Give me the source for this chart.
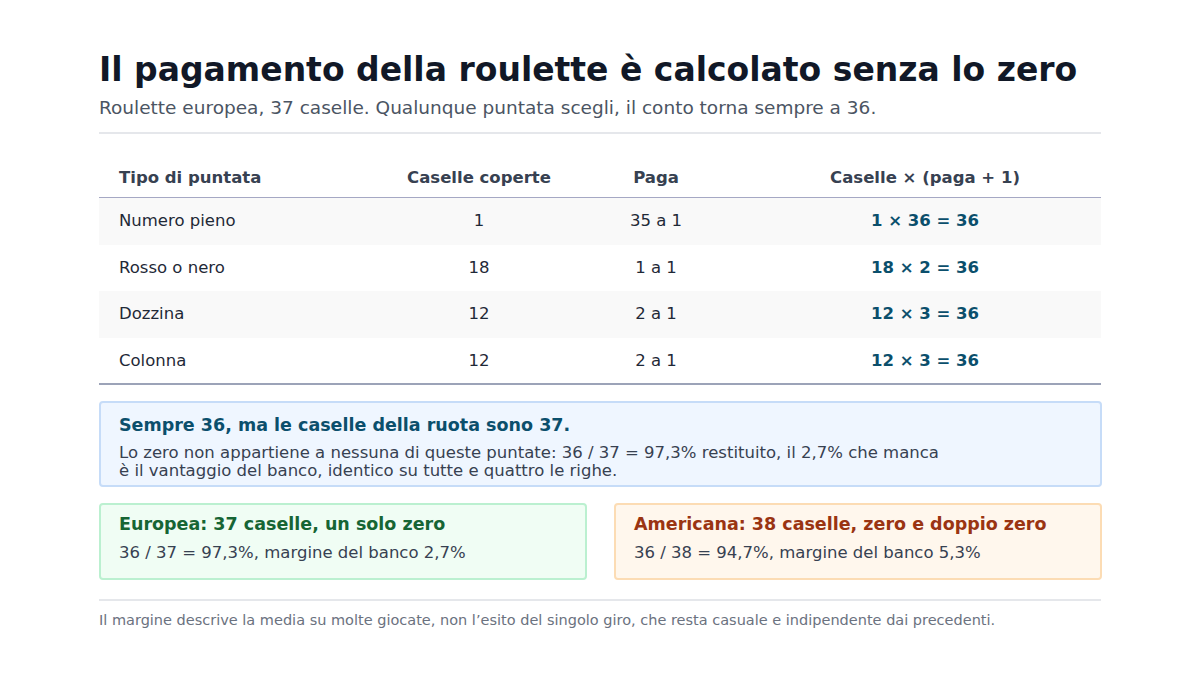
<!DOCTYPE html>
<html><head><meta charset="utf-8">
<script src="https://cdn.jsdelivr.net/npm/chart.js@4"></script>
<style>
body{margin:0;width:1200px;height:675px;background:#fff;font-family:"DejaVu Sans",sans-serif;position:relative;overflow:hidden}
.a{position:absolute;white-space:nowrap}
.c{transform:translateX(-50%)}
.box{position:absolute;box-sizing:border-box;border-radius:4px;border:2px solid}
</style></head><body>
<div id="root"></div>
<script>
const headers=["Tipo di puntata","Caselle coperte","Paga","Caselle × (paga + 1)"];
const bets=["Numero pieno","Rosso o nero","Dozzina","Colonna"];
const covered=[1,18,12,12];
const payout=[35,1,2,2];
const R=document.getElementById('root');
function el(cls,style,html){const d=document.createElement('div');d.className=cls;Object.assign(d.style,style);d.innerHTML=html||'';R.appendChild(d);return d;}
el('a',{left:'99px',top:'50px',fontSize:'33px',fontWeight:'bold',color:'#111827'},'Il pagamento della roulette è calcolato senza lo zero');
el('a',{left:'99px',top:'97px',fontSize:'18.5px',color:'#4b5563'},'Roulette europea, 37 caselle. Qualunque puntata scegli, il conto torna sempre a 36.');
el('a',{left:'99px',top:'132px',width:'1002px',height:'2px',background:'#e5e7eb'});
const cx=[null,479,656,925];
headers.forEach((h,i)=>{
  el('a'+(i?' c':''),{left:(i?cx[i]:119)+'px',top:'168px',fontSize:'16.5px',fontWeight:'bold',color:'#374151'},h);
});
el('a',{left:'99px',top:'197px',width:'1002px',height:'1px',background:'#a5a8c4'});
bets.forEach((b,r)=>{
  const top=198+r*46.5;
  if(r%2===0) el('a',{left:'99px',top:top+'px',width:'1002px',height:'46.5px',background:'#f9f9f9'});
  const ty=top+13;
  el('a',{left:'119px',top:ty+'px',fontSize:'16.5px',color:'#1f2937'},b);
  el('a c',{left:cx[1]+'px',top:ty+'px',fontSize:'16.5px',color:'#1f2937'},covered[r]);
  el('a c',{left:cx[2]+'px',top:ty+'px',fontSize:'16.5px',color:'#1f2937'},payout[r]+' a 1');
  el('a c',{left:cx[3]+'px',top:ty+'px',fontSize:'16.5px',fontWeight:'bold',color:'#0b4f6c'},covered[r]+' × '+(payout[r]+1)+' = '+covered[r]*(payout[r]+1));
});
el('a',{left:'99px',top:'383px',width:'1002px',height:'2px',background:'#9ca3b8'});
el('box',{left:'99px',top:'401px',width:'1003px',height:'86px',background:'#eff6ff',borderColor:'#c6dcf8'});
el('a',{left:'119px',top:'415px',fontSize:'17.5px',fontWeight:'bold',color:'#0b4f6c'},'Sempre 36, ma le caselle della ruota sono 37.');
el('a',{left:'119px',top:'444px',fontSize:'16.5px',color:'#374151',lineHeight:'18px'},'Lo zero non appartiene a nessuna di queste puntate: 36 / 37 = 97,3% restituito, il 2,7% che manca<br>è il vantaggio del banco, identico su tutte e quattro le righe.');
el('box',{left:'99px',top:'503px',width:'488px',height:'77px',background:'#f0fdf4',borderColor:'#bbf0d0'});
el('a',{left:'119px',top:'514px',fontSize:'17.5px',fontWeight:'bold',color:'#166534'},'Europea: 37 caselle, un solo zero');
el('a',{left:'119px',top:'543px',fontSize:'16.5px',color:'#374151'},'36 / 37 = 97,3%, margine del banco 2,7%');
el('box',{left:'614px',top:'503px',width:'488px',height:'77px',background:'#fff7ed',borderColor:'#fcdcb4'});
el('a',{left:'634px',top:'514px',fontSize:'17.5px',fontWeight:'bold',color:'#9a3412'},'Americana: 38 caselle, zero e doppio zero');
el('a',{left:'634px',top:'543px',fontSize:'16.5px',color:'#374151'},'36 / 38 = 94,7%, margine del banco 5,3%');
el('a',{left:'99px',top:'599px',width:'1002px',height:'2px',background:'#e5e7eb'});
el('a',{left:'99px',top:'612px',fontSize:'14.5px',color:'#6b7280'},'Il margine descrive la media su molte giocate, non l’esito del singolo giro, che resta casuale e indipendente dai precedenti.');
</script></body></html>
